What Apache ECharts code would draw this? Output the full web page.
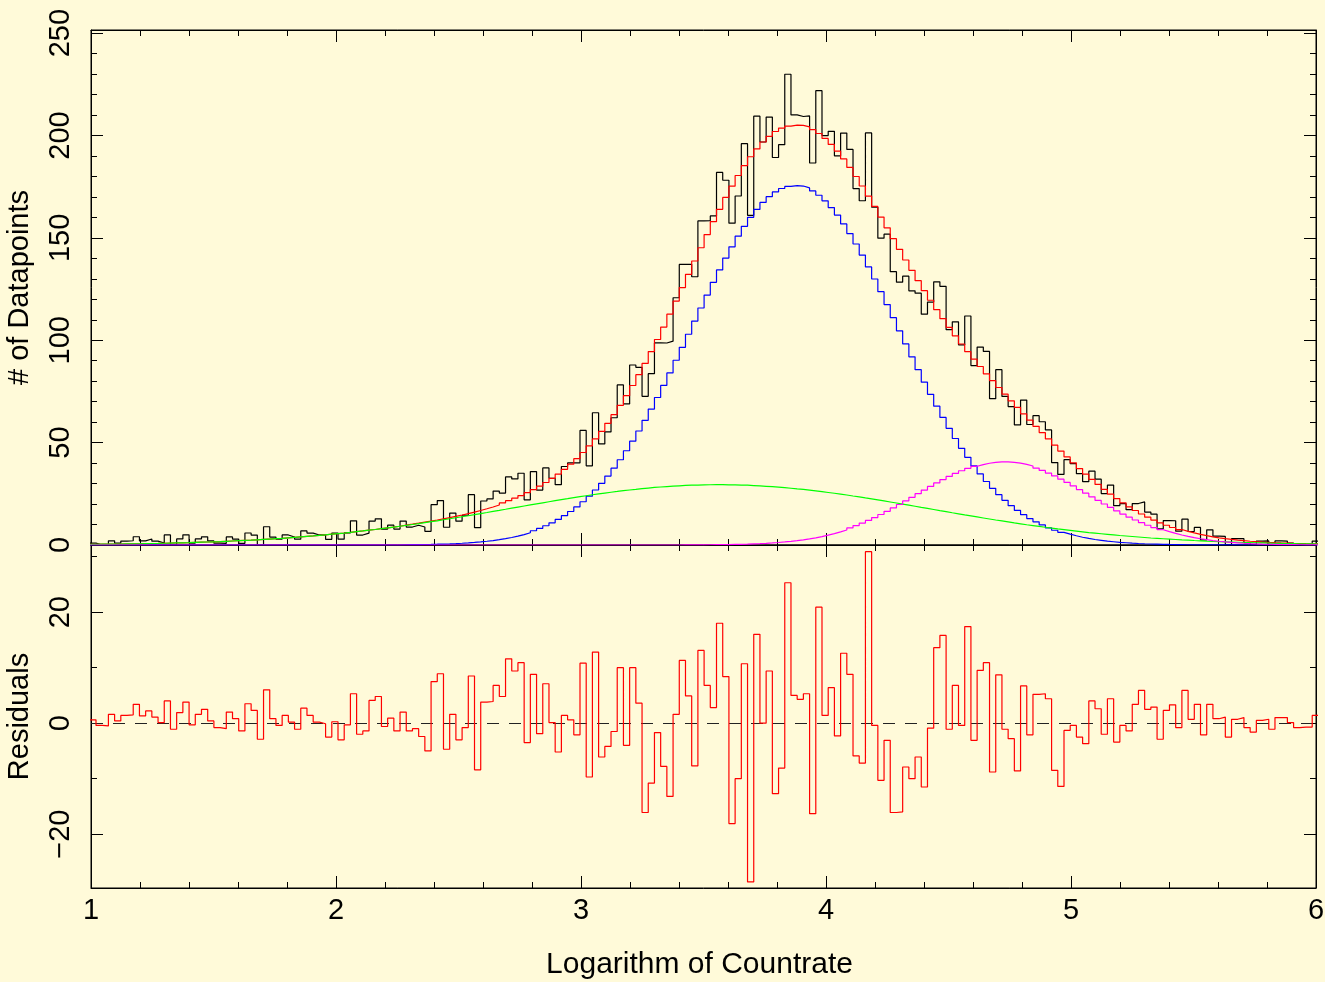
<!DOCTYPE html>
<html><head><meta charset="utf-8">
<script src="https://cdn.jsdelivr.net/npm/echarts@6/dist/echarts.min.js"></script>
<style>html,body{margin:0;padding:0;background:#FFFAD9;} #c{width:1325px;height:982px;}</style>
</head><body><div id="c"></div>
<script>
// Histogram binning (log countrate), first bin left edge and bin width
const binStart = 0.99507;
const binWidth = 0.025327;

// Residuals (data - model) per bin
const residuals = [
 0.6,-0.4,-0.5,1.6,0.4,1.4,1.5,3.4,1.3,2.2,
 1.1,0.1,4.0,-1.1,1.9,3.8,-0.3,1.6,2.5,0.4,
 -0.8,-1.0,2.0,0.8,-1.4,3.5,2.3,-2.9,6.0,0.8,
 -0.4,1.4,0.2,-1.1,2.7,1.4,0.2,-0.1,-2.5,0.25,
 -3.0,-0.3,5.3,-2.0,-1.4,4.1,4.8,-0.6,0.9,-1.4,
 2.0,-1.4,-1.0,-2.4,-5.0,7.5,8.9,-4.7,1.6,-3.0,
 -0.8,8.5,-8.4,3.8,3.9,6.8,4.8,11.6,9.4,10.9,
 -3.5,8.8,-1.9,7.1,0.1,-5.2,1.4,0.6,-2.1,10.8,
 -9.7,12.8,-6.1,-4.2,-1.5,10.0,-4.0,10.0,3.6,-16.1,
 -10.8,-1.7,-7.8,-13.2,1.6,11.3,4.9,-7.7,13.1,6.8,
 2.8,18.0,8.4,-18.1,-10.0,10.7,-28.6,16.0,0.0,9.4,
 -12.7,-8.1,25.3,5.0,4.3,5.3,-16.3,20.9,1.4,6.4,
 -2.3,12.6,8.8,-5.9,-7.2,30.9,-0.4,-10.3,-3.1,-16.1,
 -16.0,-7.9,-10.0,-6.1,-11.5,-0.9,13.6,15.8,-1.1,6.8,
 -0.4,17.4,-3.1,9.5,10.9,-8.8,8.7,-1.1,-2.8,-8.6,
 6.7,-2.1,5.2,5.3,4.4,-8.5,-11.4,-1.3,-0.4,-2.5,
 -3.7,4.0,2.6,-2.0,4.4,-3.4,-0.4,-1.4,3.4,5.9,
 2.5,2.9,-2.9,2.3,3.3,-0.8,5.9,0.7,3.4,-2.1,
 3.4,0.8,1.1,-2.5,0.7,1.0,-0.8,-1.6,0.5,0.7,
 -1.1,1.0,1.0,0.1,-0.8,-0.7,-0.7,1.4
];

// Blue component per bin
const blueComp = [
 0,0,0,0,0,0,0,0,0,0,
 0,0,0,0,0,0,0,0,0,0,
 0,0,0,0,0,0,0,0,0,0,
 0,0,0,0,0,0,0,0,0,0,
 0,0,0,0,0,0,0,0,0,0,
 0.13,0.16,0.20,0.25,0.30,0.38,0.47,0.57,0.70,0.85,
 1.04,1.25,1.51,1.82,2.18,2.60,3.09,3.66,4.33,5.09,
 5.96,6.96,8.10,9.39,10.85,12.48,14.31,16.36,18.60,21.11,
 23.85,26.85,30.13,33.68,37.50,41.63,46.03,50.72,55.67,60.88,
 66.36,72.04,77.92,84.01,90.22,96.54,102.93,109.35,115.74,122.06,
 128.27,134.31,140.12,145.63,150.81,155.63,160.0,163.9,167.3,170.1,
 172.4,174.1,175.1,175.5,175.3,174.4,172.9,170.8,168.1,164.8,
 161.1,156.8,152.1,147.0,141.6,135.8,129.9,123.7,117.4,111.0,
 104.6,98.2,91.9,85.6,79.5,73.6,67.8,62.3,57.0,52.0,
 47.2,42.8,38.6,34.7,31.0,27.7,24.6,21.8,19.2,16.9,
 14.8,12.9,11.3,9.8,8.4,7.2,6.2,5.3,4.5,3.8,
 3.2,2.7,2.3,1.9,1.6,1.3,1.1,0.9,0.74,0.60,
 0.49,0.40,0.32,0.26,0.21,0.17,0.13,0.10,0.08,0.06,
 0.05,0.04,0.03,0.02,0.02,0.01,0,0,0,0,
 0,0,0,0,0,0,0,0
];

// Green component per bin
const greenComp = [
 0.34,0.38,0.41,0.45,0.48,0.52,0.57,0.62,0.68,0.73,
 0.78,0.86,0.93,1.01,1.08,1.16,1.26,1.36,1.47,1.57,
 1.67,1.81,1.95,2.09,2.23,2.37,2.55,2.73,2.91,3.09,
 3.27,3.50,3.73,3.96,4.19,4.42,4.70,4.99,5.27,5.56,
 5.84,6.18,6.53,6.87,7.22,7.56,7.96,8.36,8.76,9.16,
 9.56,10.01,10.46,10.92,11.37,11.82,12.32,12.81,13.31,13.80,
 14.30,14.82,15.35,15.87,16.40,16.92,17.45,17.99,18.52,19.05,
 19.58,20.10,20.61,21.13,21.64,22.16,22.63,23.11,23.58,24.06,
 24.53,24.94,25.34,25.75,26.15,26.56,26.87,27.18,27.50,27.81,
 28.12,28.32,28.52,28.72,28.92,29.12,29.20,29.28,29.35,29.43,
 29.50,29.44,29.39,29.33,29.28,29.22,29.04,28.86,28.67,28.49,
 28.31,28.01,27.72,27.42,27.13,26.83,26.44,26.05,25.65,25.26,
 24.87,24.41,23.94,23.48,23.01,22.55,22.04,21.53,21.01,20.50,
 19.99,19.46,18.93,18.39,17.86,17.33,16.80,16.28,15.75,15.23,
 14.70,14.20,13.70,13.20,12.70,12.20,11.74,11.28,10.81,10.35,
 9.89,9.48,9.07,8.67,8.26,7.85,7.50,7.15,6.79,6.44,
 6.09,5.80,5.50,5.21,4.92,4.63,4.39,4.15,3.91,3.67,
 3.43,3.24,3.05,2.87,2.68,2.49,2.35,2.20,2.06,1.91,
 1.77,1.66,1.55,1.45,1.34,1.23,1.15,1.07,0.99,0.91,
 0.83,0.77,0.72,0.66,0.61,0.55,0.51,0.47
];

// Magenta component per bin
const magentaComp = [
 0,0,0,0,0,0,0,0,0,0,
 0,0,0,0,0,0,0,0,0,0,
 0,0,0,0,0,0,0,0,0,0,
 0,0,0,0,0,0,0,0,0,0,
 0,0,0,0,0,0,0,0,0,0,
 0,0,0,0,0,0,0,0,0,0,
 0,0,0,0,0,0,0,0,0,0,
 0,0,0,0,0,0,0,0,0,0,
 0,0,0,0,0,0,0,0,0,0,
 0,0,0,0,0,0.04,0.05,0.07,0.08,0.11,
 0.14,0.18,0.22,0.28,0.35,0.44,0.55,0.67,0.83,1.01,
 1.22,1.48,1.78,2.12,2.53,2.99,3.52,4.11,4.79,5.55,
 6.39,7.33,8.36,9.48,10.70,12.01,13.41,14.89,16.46,18.10,
 19.78,21.52,23.29,25.07,26.84,28.60,30.30,31.94,33.50,34.94,
 36.26,37.43,38.44,39.27,39.91,40.34,40.57,40.58,40.38,39.98,
 39.37,38.57,37.58,36.43,35.14,33.71,32.17,30.54,28.84,27.09,
 25.32,23.54,21.77,20.02,18.33,16.69,15.11,13.61,12.20,10.88,
 9.65,8.51,7.47,6.52,5.66,4.89,4.21,3.59,3.06,2.59,
 2.18,1.82,1.52,1.26,1.04,0.85,0.69,0.56,0.45,0.36,
 0.29,0.23,0.18,0.14,0.11,0.09,0.07,0.05
];

const xTickValues = [1, 2, 3, 4, 5, 6];
const topYTicks = [0, 50, 100, 150, 200, 250];
const resMajorTicks = [-20, 0, 20];
const resMinorTicks = [-10, 10, 30];
const zeroLine = [[1, 0], [6, 0]];

// Total model = sum of the three components; observed counts = model + residual
const model = blueComp.map((b, i) => b + greenComp[i] + magentaComp[i]);
const counts = model.map((m, i) => m + residuals[i]);

function steps(vals) {
  const pts = [];
  vals.forEach((v, i) => {
    const l = binStart + i * binWidth;
    pts.push([l, v], [l + binWidth, v]);
  });
  return pts;
}

const FONT = 'Liberation Sans';
const FS = 29;
const BG = '#FFFAD9';
const black = '#000';

function xAx(grid, pos, showLabel) {
  return {
    type: 'value', gridIndex: grid, position: pos, min: 1, max: 6, interval: 1,
    axisLine: { show: true, onZero: false, lineStyle: { color: black, width: 1 } },
    axisTick: { show: true, inside: true, length: 12, lineStyle: { color: black } },
    minorTick: { show: true, splitNumber: 5, length: 6, lineStyle: { color: black } },
    splitLine: { show: false },
    axisLabel: { show: showLabel, color: black, fontFamily: FONT, fontSize: FS, margin: 8 },
    name: showLabel ? 'Logarithm of Countrate' : '',
    nameLocation: 'middle', nameGap: 62,
    nameTextStyle: { color: black, fontFamily: FONT, fontSize: 30, padding: [0, 8, 0, 0] }
  };
}

const gridCommon = { left: 91, right: 9, show: true, borderColor: black, borderWidth: 1,
  backgroundColor: 'transparent', containLabel: false, outerBoundsMode: 'none' };

const option = {
  backgroundColor: BG,
  animation: false,
  textStyle: { fontFamily: FONT },
  grid: [
    Object.assign({ top: 30, height: 515 }, gridCommon),
    Object.assign({ top: 545, height: 343 }, gridCommon)
  ],
  xAxis: [
    xAx(0, 'bottom', false),
    xAx(0, 'top', false),
    xAx(1, 'bottom', true),
    xAx(1, 'top', false)
  ],
  yAxis: [
    {
      type: 'value', gridIndex: 0, position: 'left', min: 0, max: 251.5, interval: 50,
      axisLine: { show: true, onZero: false, lineStyle: { color: black } },
      axisTick: { show: true, inside: true, length: 12, lineStyle: { color: black } },
      minorTick: { show: true, splitNumber: 5, length: 6, lineStyle: { color: black } },
      splitLine: { show: false },
      axisLabel: { show: true, rotate: 90, align: 'center', verticalAlign: 'bottom', margin: 16,
        color: black, fontFamily: FONT, fontSize: FS,
        customValues: topYTicks },
      name: '# of Datapoints', nameLocation: 'middle', nameRotate: 90, nameGap: 57,
      nameTextStyle: { color: black, fontFamily: FONT, fontSize: FS }
    },
    {
      type: 'value', gridIndex: 0, position: 'right', min: 0, max: 251.5, interval: 50,
      axisLine: { show: true, onZero: false, lineStyle: { color: black } },
      axisTick: { show: true, inside: true, length: 12, lineStyle: { color: black } },
      minorTick: { show: true, splitNumber: 5, length: 6, lineStyle: { color: black } },
      splitLine: { show: false }, axisLabel: { show: false }
    },
    {
      type: 'value', gridIndex: 1, position: 'left', min: -29.7, max: 32.1,
      axisLine: { show: true, onZero: false, lineStyle: { color: black } },
      axisTick: { show: true, inside: true, length: 12, lineStyle: { color: black }, customValues: resMajorTicks },
      splitLine: { show: false },
      axisLabel: { show: true, rotate: 90, align: 'center', verticalAlign: 'bottom', margin: 16,
        color: black, fontFamily: FONT, fontSize: FS, customValues: resMajorTicks,
        formatter: v => String(v).replace('-', '\u2212') },
      name: 'Residuals', nameLocation: 'middle', nameRotate: 90, nameGap: 57,
      nameTextStyle: { color: black, fontFamily: FONT, fontSize: FS }
    },
    {
      type: 'value', gridIndex: 1, position: 'left', min: -29.7, max: 32.1,
      axisLine: { show: false, onZero: false },
      axisTick: { show: true, inside: true, length: 6, lineStyle: { color: black }, customValues: resMinorTicks },
      splitLine: { show: false }, axisLabel: { show: false }
    },
    {
      type: 'value', gridIndex: 1, position: 'right', min: -29.7, max: 32.1,
      axisLine: { show: true, onZero: false, lineStyle: { color: black } },
      axisTick: { show: true, inside: true, length: 12, lineStyle: { color: black }, customValues: resMajorTicks },
      splitLine: { show: false }, axisLabel: { show: false }
    },
    {
      type: 'value', gridIndex: 1, position: 'right', min: -29.7, max: 32.1,
      axisLine: { show: false, onZero: false },
      axisTick: { show: true, inside: true, length: 6, lineStyle: { color: black }, customValues: resMinorTicks },
      splitLine: { show: false }, axisLabel: { show: false }
    }
  ],
  series: [
    { name: 'data', type: 'line', xAxisIndex: 0, yAxisIndex: 0, data: steps(counts), showSymbol: false, symbol: 'none',
      lineStyle: { color: '#000000', width: 1.2 }, clip: true, z: 2 },
    { name: 'model', type: 'line', xAxisIndex: 0, yAxisIndex: 0, data: steps(model), showSymbol: false, symbol: 'none',
      lineStyle: { color: '#ff0000', width: 1.2 }, clip: true, z: 3 },
    { name: 'comp1', type: 'line', xAxisIndex: 0, yAxisIndex: 0, data: steps(blueComp), showSymbol: false, symbol: 'none',
      lineStyle: { color: '#0000ff', width: 1.2 }, clip: true, z: 3 },
    { name: 'comp2', type: 'line', xAxisIndex: 0, yAxisIndex: 0, data: steps(greenComp), showSymbol: false, symbol: 'none',
      lineStyle: { color: '#00ff00', width: 1.2 }, clip: true, z: 4 },
    { name: 'comp3', type: 'line', xAxisIndex: 0, yAxisIndex: 0, data: steps(magentaComp), showSymbol: false, symbol: 'none',
      lineStyle: { color: '#ff00ff', width: 1.2 }, clip: true, z: 4 },
    { name: 'zero', type: 'custom', xAxisIndex: 2, yAxisIndex: 2, data: [zeroLine[0]], silent: true, z: 2,
      renderItem: (params, api) => {
        const a = api.coord([zeroLine[0][0], zeroLine[0][1]]);
        const b = api.coord([zeroLine[1][0], zeroLine[1][1]]);
        const yy = Math.round(a[1]) + 0.5;
        return { type: 'line', shape: { x1: a[0], y1: yy, x2: b[0], y2: yy },
          style: { stroke: '#222222', lineWidth: 1.2, lineDash: [12, 10] } };
      } },
    { name: 'residuals', type: 'line', xAxisIndex: 2, yAxisIndex: 2, data: steps(residuals), showSymbol: false, symbol: 'none',
      lineStyle: { color: '#ff0000', width: 1.2 }, clip: true, z: 3 }
  ]
};

const chart = echarts.init(document.getElementById('c'), null, { renderer: 'canvas' });
chart.setOption(option);
</script>
</body></html>
